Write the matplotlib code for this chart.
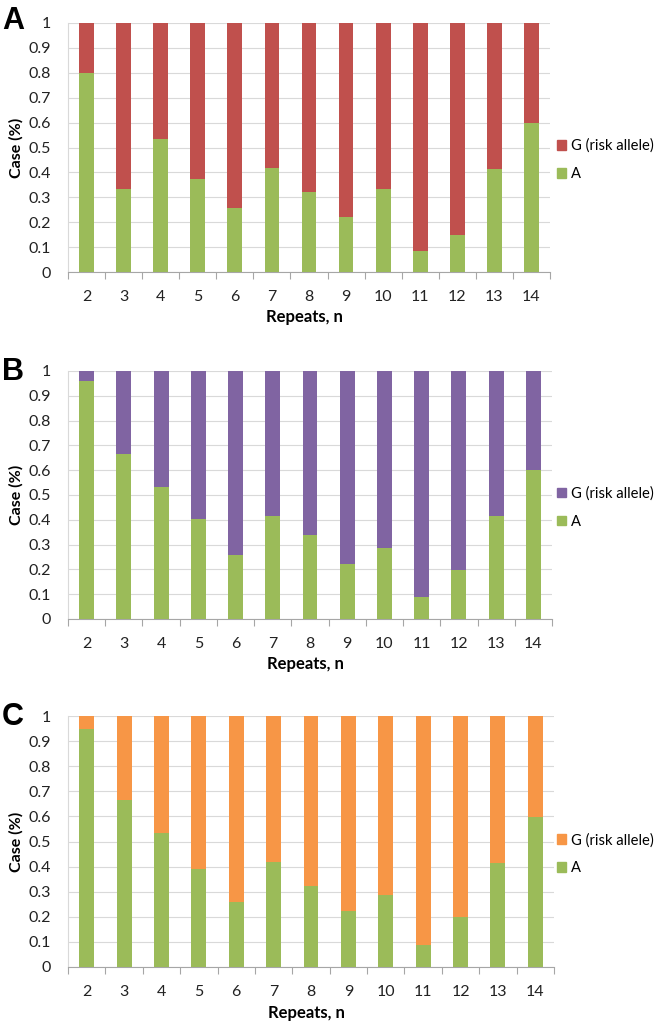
import matplotlib
matplotlib.use("Agg")
import matplotlib.pyplot as plt
import numpy as np
from matplotlib.patches import Patch

plt.rcParams['font.family'] = ['Lato', 'DejaVu Sans']

repeats = ['2', '3', '4', '5', '6', '7', '8', '9', '10', '11', '12', '13', '14']
a_panel_A = [0.80, 0.333, 0.533, 0.375, 0.257, 0.417, 0.321, 0.221, 0.333, 0.086, 0.149, 0.415, 0.60]
a_panel_B = [0.961, 0.667, 0.533, 0.404, 0.258, 0.417, 0.338, 0.222, 0.285, 0.087, 0.199, 0.417, 0.60]
a_panel_C = [0.949, 0.667, 0.533, 0.390, 0.259, 0.418, 0.324, 0.222, 0.286, 0.086, 0.198, 0.415, 0.598]
panel_letters = ['A', 'B', 'C']
g_colors = ['#C0504D', '#8064A2', '#F79646']
a_color = '#9BBB59'
y_ticks = [0, 0.1, 0.2, 0.3, 0.4, 0.5, 0.6, 0.7, 0.8, 0.9, 1]
y_ticklabels = ['0', '0.1', '0.2', '0.3', '0.4', '0.5', '0.6', '0.7', '0.8', '0.9', '1']

W, H = 661, 1023
fig = plt.figure(figsize=(W / 100, H / 100), dpi=100)

# axes boxes in pixels: left, right, top, bottom
boxes = [(68, 550, 23, 272), (68, 552, 371, 619), (68, 554, 716, 967)]
letter_tops = [6, 357, 702]
data = [a_panel_A, a_panel_B, a_panel_C]

for letter, box, ltop, vals, gc in zip(panel_letters, boxes, letter_tops, data, g_colors):
    l, r, t, b = box
    ax = fig.add_axes([l / W, (H - b) / H, (r - l) / W, (b - t) / H])
    x = np.arange(len(repeats))
    vals = np.array(vals)
    ax.bar(x, vals, width=0.4, color=a_color, zorder=3)
    ax.bar(x, 1 - vals, bottom=vals, width=0.4, color=gc, zorder=3)
    ax.set_xlim(-0.5, len(repeats) - 0.5)
    ax.set_ylim(0, 1)
    ax.set_yticks(y_ticks)
    ax.set_yticklabels(y_ticklabels, fontsize=11.5, color='#222222')
    ax.set_xticks(x)
    ax.set_xticklabels(repeats, fontsize=11.5, color='#222222')
    ax.set_xticks(np.arange(-0.5, len(repeats), 1.0), minor=True)
    ax.tick_params(axis='x', which='major', length=0, pad=13)
    ax.tick_params(axis='x', which='minor', length=5, color='#A6A6A6', width=0.8)
    ax.tick_params(axis='y', length=0, pad=12)
    ax.grid(axis='y', color='#D9D9D9', linewidth=0.8, zorder=0)
    for s in ['top', 'right']:
        ax.spines[s].set_visible(False)
    ax.spines['left'].set_color('#D9D9D9')
    ax.spines['bottom'].set_color('#A6A6A6')
    ax.spines['left'].set_linewidth(0.8)
    ax.spines['bottom'].set_linewidth(0.8)
    ax.set_ylabel('Case (%)', fontsize=11.5, fontweight='bold', labelpad=4)
    ax.set_xlabel('Repeats, n', fontsize=12, fontweight='bold', labelpad=3)
    ax.xaxis.set_label_coords(0.49, -0.15)
    handles = [Patch(color=gc, label='G (risk allele)'), Patch(color=a_color, label='A')]
    yc = (b - 0.45 * (b - t))
    fig.legend(handles=handles, loc='center left', bbox_to_anchor=(557 / W, (H - yc) / H),
               frameon=False, fontsize=10.6, handlelength=0.6, handleheight=0.6,
               handletextpad=0.35, labelspacing=0.95, borderaxespad=0, borderpad=0)
    fig.text(2 / W, (H - ltop) / H, letter, fontsize=22, fontweight='bold',
             family='Liberation Sans', va='top', ha='left')

fig.savefig('out.png', dpi=100)
